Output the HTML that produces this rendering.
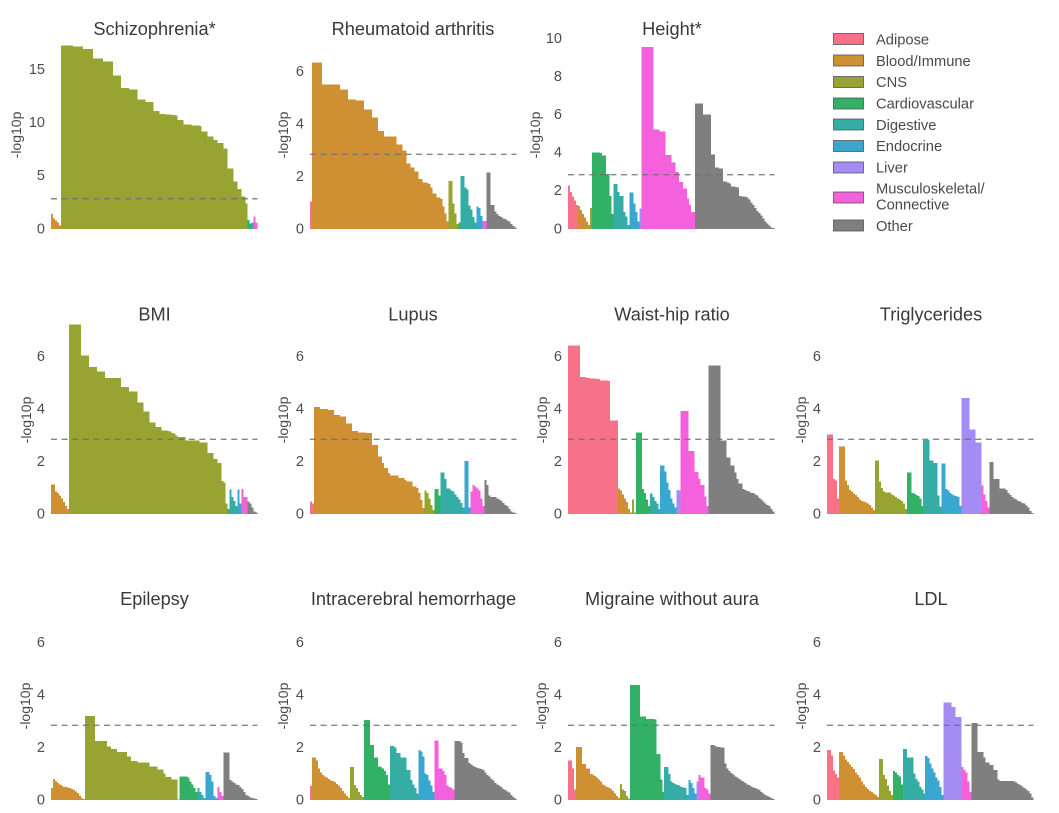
<!DOCTYPE html>
<html lang="en">
<head>
<meta charset="utf-8">
<title>Tissue enrichment by trait</title>
<style>
html,body{margin:0;padding:0;background:#fff;}
svg{display:block;filter:blur(.35px);}
text{font-family:"Liberation Sans",Arial,sans-serif;}
.title{font-size:18.2px;fill:#3a3a3a;text-anchor:middle;}
.legend-text{font-size:14.7px;fill:#4a4a4a;}
.tick{font-size:14.5px;fill:#4d4d4d;text-anchor:end;}
.ytitle{font-size:14px;fill:#4a4a4a;text-anchor:middle;}
</style>
</head>
<body>
<svg id="chart" xmlns="http://www.w3.org/2000/svg" width="1059" height="813" viewBox="0 0 1059 813">
<rect width="1059" height="813" fill="#ffffff"/>
<text class="title" x="154.5" y="35">Schizophrenia*</text>
<text class="title" x="413" y="35">Rheumatoid arthritis</text>
<text class="title" x="672" y="35">Height*</text>
<text class="title" x="154.5" y="320.5">BMI</text>
<text class="title" x="413" y="320.5">Lupus</text>
<text class="title" x="672" y="320.5">Waist-hip ratio</text>
<text class="title" x="931" y="320.5">Triglycerides</text>
<text class="title" x="154.5" y="605">Epilepsy</text>
<text class="title" x="413.5" y="605">Intracerebral hemorrhage</text>
<text class="title" x="672" y="605">Migraine without aura</text>
<text class="title" x="931" y="605">LDL</text>
<g stroke-width="0.8">
<rect x="833.5" y="33.5" width="30" height="11" fill="#f77189" stroke="#555"/>
<text class="legend-text" x="876" y="44.5" stroke="none">Adipose</text>
<rect x="833.5" y="55" width="30" height="11" fill="#ce9032" stroke="#555"/>
<text class="legend-text" x="876" y="66" stroke="none">Blood/Immune</text>
<rect x="833.5" y="76.5" width="30" height="11" fill="#97a431" stroke="#555"/>
<text class="legend-text" x="876" y="87" stroke="none">CNS</text>
<rect x="833.5" y="98" width="30" height="11" fill="#32b166" stroke="#555"/>
<text class="legend-text" x="876" y="108.5" stroke="none">Cardiovascular</text>
<rect x="833.5" y="119" width="30" height="11" fill="#36ada4" stroke="#555"/>
<text class="legend-text" x="876" y="130" stroke="none">Digestive</text>
<rect x="833.5" y="140.5" width="30" height="11" fill="#39a7d0" stroke="#555"/>
<text class="legend-text" x="876" y="151" stroke="none">Endocrine</text>
<rect x="833.5" y="162" width="30" height="11" fill="#a48cf4" stroke="#555"/>
<text class="legend-text" x="876" y="172.5" stroke="none">Liver</text>
<rect x="833.5" y="192" width="30" height="11" fill="#f561dd" stroke="#555"/>
<text class="legend-text" x="876" y="193.5" stroke="none">Musculoskeletal/</text>
<text class="legend-text" x="876" y="209.5" stroke="none">Connective</text>
<rect x="833.5" y="220" width="30" height="11" fill="#7f7f7f" stroke="#555"/>
<text class="legend-text" x="876" y="231" stroke="none">Other</text>
</g>
</svg>
<script>
// Tissue order for the inner arrays of every trait below.
const tissues = ["adipose","blood-immune","cns","cardiovascular","digestive","endocrine","liver","musculoskeletal","other"];
const tissueColors = ["#f77189","#ce9032","#97a431","#32b166","#36ada4","#39a7d0","#a48cf4","#f561dd","#7f7f7f"];
const threshold = 2.85;

const schizophrenia = [
 [],
 [1.4,1.0,0.8,0.6,0.35],
 [17.3,17.3,17.3,17.3,17.3,17.3,17.2,17.2,17.2,17.2,17.2,16.95,16.95,16.95,16.95,16.95,16.07,16.07,16.07,16.07,16.07,15.8,15.8,15.8,15.8,15.8,14.45,14.45,14.45,14.45,13.3,13.3,13.3,13.3,13.15,13.15,13.15,13.15,12.2,12.2,12.2,12.2,11.95,11.95,11.95,11.95,11.1,11.1,11.1,10.85,10.85,10.85,10.8,10.8,10.8,10.75,10.75,10.7,10.25,10.25,10.25,9.87,9.87,9.87,9.87,9.75,9.75,9.75,9.75,9.7,9.2,9.2,9.2,8.7,8.7,8.7,8.4,8.4,8.1,8.1,8.1,7.6,7.6,5.7,5.7,5.7,4.47,4.47,3.75,3.75,3.05,3.05,2.4],
 [0.85,0.5],
 [0.6],
 [],
 [],
 [1.2,0.6],
 []
];
const rheumatoidArthritis = [
 [1.05],
 [6.35,6.35,6.35,6.35,6.35,5.52,5.52,5.52,5.52,5.52,5.52,5.52,5.52,5.52,5.32,5.32,5.32,5.32,4.95,4.95,4.95,4.95,4.9,4.9,4.9,4.9,4.57,4.57,4.57,4.57,4.26,4.26,4.26,3.74,3.74,3.74,3.54,3.54,3.54,3.54,3.54,3.54,3.23,3.23,3.23,2.99,2.99,2.5,2.5,2.35,2.35,2.19,2.19,1.9,1.9,1.77,1.77,1.75,1.72,1.59,1.36,1.36,1.2,1.2,1.15,0.85,0.6,0.28],
 [1.83,1.83,0.98,0.6,0.2],
 [0.25],
 [2.02,2.02,1.58,1.5,0.9,0.75,0.45,0.25],
 [0.85,0.8,0.5],
 [],
 [0.3,0.3],
 [2.15,2.15,0.92,0.92,0.66,0.57,0.5,0.45,0.41,0.38,0.33,0.28,0.2,0.12,0.05]
];
const height = [
 [2.29,1.95,1.7,1.5,1.25],
 [1.2,1.0,0.8,0.6,0.4,0.2],
 [1.1],
 [4.02,4.02,4.02,4.02,4.0,3.87,3.87,2.9,2.9,1.73,0.8],
 [2.36,2.36,1.95,1.73,1.73,0.9,0.65,0.2],
 [1.92,1.92,1.35,0.9,0.4],
 [1.08],
 [9.57,9.57,9.57,9.57,9.57,9.57,5.23,5.23,5.23,5.13,5.13,5.13,3.88,3.88,3.88,3.5,3.5,3.0,3.0,2.48,2.48,2.13,2.13,1.6,1.25,0.9,0.9],
 [6.58,6.58,6.58,6.58,6.0,6.0,6.0,6.0,3.9,3.9,3.24,3.24,3.18,3.18,2.5,2.5,2.45,2.4,2.22,2.22,2.2,2.18,1.72,1.7,1.7,1.68,1.65,1.55,1.4,1.25,1.1,0.95,0.85,0.7,0.55,0.4,0.28,0.18,0.08,0.04]
];
const bmi = [
 [],
 [1.13,1.13,0.85,0.8,0.7,0.6,0.45,0.3,0.2],
 [7.24,7.24,7.24,7.24,7.24,7.24,6.05,6.05,6.05,6.05,5.62,5.62,5.62,5.62,5.44,5.44,5.44,5.44,5.2,5.2,5.2,5.2,5.2,5.2,5.2,5.2,4.84,4.84,4.84,4.84,4.67,4.67,4.67,4.67,4.25,4.25,4.25,3.92,3.92,3.92,3.5,3.5,3.5,3.33,3.33,3.33,3.19,3.19,3.18,3.17,3.15,3.1,3.07,3.0,2.94,2.94,2.94,2.94,2.81,2.81,2.81,2.81,2.81,2.81,2.81,2.73,2.73,2.73,2.73,2.32,2.32,2.32,2.09,2.09,1.94,1.94,1.26,1.2,0.41],
 [0.2],
 [0.93,0.65,0.5,0.3],
 [0.93,0.4],
 [],
 [0.95,0.65,0.65],
 [0.47,0.4,0.25,0.1,0.05]
];
const lupus = [
 [0.47,0.4],
 [4.09,4.09,4.09,4.0,4.0,4.0,4.0,3.96,3.96,3.96,3.77,3.77,3.77,3.72,3.72,3.72,3.45,3.45,3.45,3.17,3.17,3.17,3.12,3.12,3.12,3.12,3.1,3.1,3.1,2.64,2.64,2.64,2.2,2.2,1.94,1.75,1.75,1.56,1.46,1.46,1.46,1.46,1.37,1.37,1.37,1.3,1.24,1.24,1.24,1.05,1.05,1.0,0.8,0.54,0.22],
 [0.89,0.8,0.6,0.35,0.15],
 [0.95,0.95,0.7],
 [1.58,1.58,1.33,0.98,0.98,0.9,0.85,0.75,0.65,0.55,0.42,0.25],
 [2.02,2.02,0.25],
 [],
 [0.85,1.1,1.05,0.98,0.9,0.6,0.3],
 [1.3,1.1,0.7,0.65,0.65,0.65,0.6,0.55,0.5,0.42,0.35,0.3,0.2,0.1,0.05,0.03]
];
const waistHipRatio = [
 [6.44,6.44,6.44,6.44,6.44,6.44,5.22,5.22,5.22,5.2,5.2,5.18,5.18,5.18,5.16,5.16,5.1,5.1,5.1,5.1,5.08,3.56,3.56,3.56,3.56],
 [0.98,0.9,0.75,0.6,0.45,0.2],
 [0.05,0.56,0.05],
 [3.12,3.12,3.12,0.95,0.8,0.55,0.3],
 [0.79,0.65,0.5,0.4,0.2],
 [1.85,1.85,1.62,1.2,0.92,0.6,0.4,0.25],
 [0.92,0.9],
 [3.93,3.93,3.93,3.93,2.41,2.41,2.41,1.6,1.6,1.33,1.1,1.1,0.66,0.3],
 [5.67,5.67,5.67,5.67,5.67,5.67,2.8,2.8,2.8,2.16,2.16,1.85,1.85,1.58,1.34,1.17,1.17,0.95,0.92,0.88,0.85,0.8,0.8,0.75,0.7,0.62,0.55,0.48,0.4,0.35,0.3,0.2,0.1]
];
const triglycerides = [
 [3.04,3.04,3.04,1.33,1.28,0.6],
 [2.58,2.58,2.58,1.27,1.1,0.92,0.85,0.78,0.72,0.65,0.55,0.5,0.47,0.43,0.4,0.35,0.25,0.15],
 [2.04,2.04,1.24,1.0,0.85,0.82,0.82,0.82,0.75,0.7,0.65,0.6,0.55,0.5,0.4,0.2],
 [1.58,1.58,0.81,0.78,0.72,0.68,0.6,0.3],
 [2.83,2.83,2.83,2.04,2.04,1.94,1.94,0.7,0.28],
 [1.93,1.93,0.96,0.9,0.8,0.75,0.7,0.68,0.65,0.3],
 [4.42,4.42,4.42,4.42,3.23,3.23,3.23,2.72,2.72,2.72],
 [1.08,0.75,0.5,0.25],
 [1.98,1.98,1.33,1.33,1.33,0.98,0.98,0.98,0.92,0.8,0.72,0.65,0.6,0.55,0.5,0.47,0.42,0.4,0.33,0.25,0.12,0.03]
];
const epilepsy = [
 [],
 [0.45,0.8,0.72,0.65,0.6,0.55,0.5,0.5,0.47,0.45,0.42,0.38,0.33,0.27,0.18,0.08,0.03],
 [3.2,3.2,3.2,3.2,3.2,2.26,2.26,2.26,2.26,2.26,2.26,2.04,2.04,1.94,1.94,1.94,1.84,1.84,1.84,1.84,1.84,1.66,1.66,1.49,1.49,1.49,1.43,1.43,1.43,1.43,1.43,1.43,1.28,1.28,1.28,1.28,1.17,1.17,1.17,1.02,0.87,0.87,0.87,0.79,0.79,0.79,0.02],
 [0.9,0.9,0.9,0.9,0.85,0.7,0.6,0.45,0.3],
 [0.45,0.3,0.2,0.08],
 [1.07,1.07,0.95,0.7,0.15,0.08],
 [],
 [0.5,0.3,0.15],
 [1.81,1.81,1.81,0.77,0.7,0.65,0.6,0.58,0.5,0.42,0.3,0.2,0.15,0.1,0.07,0.05,0.03]
];
const intracerebralHemorrhage = [
 [0.54],
 [1.63,1.63,1.5,1.2,1.05,0.95,0.9,0.85,0.8,0.75,0.72,0.68,0.62,0.55,0.45,0.35,0.25,0.15,0.07],
 [1.25,1.25,0.57,0.45,0.3,0.2,0.12],
 [3.06,3.06,3.06,2.1,2.1,1.62,1.62,1.28,1.25,1.2,1.1,0.95,0.6],
 [2.07,2.07,2.0,1.8,1.8,1.62,1.62,1.62,1.15,1.15,0.77,0.6,0.45,0.25],
 [1.91,1.85,1.66,1.02,0.95,0.75,0.55,0.3],
 [],
 [2.27,2.27,1.2,1.2,1.1,0.95,0.55,0.5,0.45,0.4],
 [2.25,2.25,2.25,2.2,1.8,1.6,1.6,1.42,1.35,1.3,1.25,1.22,1.2,1.18,1.15,1.05,0.95,0.9,0.8,0.75,0.65,0.6,0.55,0.5,0.42,0.38,0.33,0.28,0.2,0.12,0.05]
];
const migraineWithoutAura = [
 [1.5,1.5,1.2,0.4],
 [2.03,2.03,2.03,1.38,1.38,1.2,1.2,1.0,0.98,0.92,0.85,0.78,0.7,0.6,0.55,0.5,0.47,0.42,0.35,0.25,0.15,0.07],
 [0.61,0.4,0.35,0.15,0.05],
 [4.39,4.39,4.39,4.39,4.39,3.18,3.18,3.18,3.09,3.09,3.09,3.09,3.07,1.76,1.76,0.79,0.3],
 [1.25,1.25,1.0,0.7,0.65,0.62,0.58,0.55,0.5,0.48,0.45,0.2],
 [0.77,0.65,0.45,0.25],
 [0.7],
 [0.96,0.85,0.85,0.45,0.4,0.25],
 [2.1,2.1,2.07,2.03,2.02,2.0,2.0,1.4,1.2,1.1,1.03,0.97,0.9,0.85,0.8,0.75,0.7,0.65,0.6,0.57,0.52,0.48,0.45,0.42,0.38,0.3,0.25,0.2,0.15,0.12,0.08,0.03]
];
const ldl = [
 [1.91,1.91,1.7,1.12,1.0,0.85],
 [1.84,1.84,1.7,1.55,1.45,1.35,1.25,1.18,1.05,0.95,0.85,0.7,0.6,0.5,0.42,0.35,0.3,0.25,0.2,0.12],
 [1.57,1.57,0.95,0.8,0.55,0.35,0.2],
 [1.11,1.05,0.95,0.9,0.6],
 [1.95,1.95,1.62,1.62,1.62,1.02,0.8,0.7,0.5,0.4,0.25],
 [1.68,1.6,1.4,1.2,1.05,0.85,0.75,0.5,0.2],
 [3.73,3.73,3.73,3.73,3.55,3.55,3.17,3.17,3.17],
 [1.25,1.15,1.05,0.7,0.3],
 [2.94,2.94,2.94,1.84,1.84,1.84,1.62,1.43,1.43,1.34,1.34,1.15,1.15,0.79,0.72,0.72,0.72,0.72,0.72,0.72,0.72,0.7,0.67,0.62,0.58,0.52,0.45,0.4,0.35,0.25,0.1]
];

const panelNames = ["schizophrenia","rheumatoid-arthritis","height","bmi","lupus","waist-hip-ratio","triglycerides","epilepsy","intracerebral-hemorrhage","migraine-without-aura","ldl"];
const panelSeries = [schizophrenia,rheumatoidArthritis,height,bmi,lupus,waistHipRatio,triglycerides,epilepsy,intracerebralHemorrhage,migraineWithoutAura,ldl];
const panelYMax = [18.0,7.29,10.03,7.29,7.29,7.29,7.29,7.29,7.29,7.29,7.29];
const ticksSmall = [0,2,4,6];
const ticksSchizophrenia = [0,5,10,15];
const ticksHeight = [0,2,4,6,8,10];
const panelTicks = [ticksSchizophrenia,ticksSmall,ticksHeight,ticksSmall,ticksSmall,ticksSmall,ticksSmall,ticksSmall,ticksSmall,ticksSmall,ticksSmall];

// Layout only
const plotHeight = 191;
const plotWidth = 206.5;
const columnLeft = [51,310,568,827];
const rowBase = [229,514,800];
const panelCol = [0,1,2,0,1,2,3,0,1,2,3];
const panelRow = [0,0,0,1,1,1,1,2,2,2,2];
const yTitleX = [[21,288,540],[31,288,547,806],[30,288,546,806]];

const svgNS = "http://www.w3.org/2000/svg";
const chart = document.getElementById("chart");

function yScale(value, panelIndex, base) {
  return base - (value / panelYMax[panelIndex]) * plotHeight;
}

panelSeries.forEach(function (series, p) {
  const x0 = columnLeft[panelCol[p]];
  const base = rowBase[panelRow[p]];
  const barCount = series.reduce(function (sum, arr) { return sum + arr.length; }, 0);
  const step = plotWidth / barCount;

  const g = document.createElementNS(svgNS, "g");
  
  
  chart.appendChild(g);

  let index = 0;
  series.forEach(function (values, t) {
    values.forEach(function (v) {
      const y = yScale(v, p, base);
      const bar = document.createElementNS(svgNS, "rect");
      
      
      bar.setAttribute("x", x0 + index * step);
      bar.setAttribute("y", y);
      bar.setAttribute("width", step + 0.05);
      bar.setAttribute("height", base - y);
      bar.setAttribute("fill", tissueColors[t]);
      bar.setAttribute("shape-rendering", "crispEdges");
      g.appendChild(bar);
      index++;
    });
  });

  const lineY = yScale(threshold, p, base);
  const line = document.createElementNS(svgNS, "line");
  
  
  line.setAttribute("x1", x0);
  line.setAttribute("x2", x0 + plotWidth);
  line.setAttribute("y1", lineY);
  line.setAttribute("y2", lineY);
  line.setAttribute("stroke", "#707070");
  line.setAttribute("stroke-opacity", "0.85");
  line.setAttribute("stroke-width", "1.4");
  line.setAttribute("stroke-dasharray", "6 4.6");
  g.appendChild(line);

  panelTicks[p].forEach(function (tickValue) {
    const label = document.createElementNS(svgNS, "text");
    
    
    label.setAttribute("class", "tick");
    label.setAttribute("x", x0 - 6);
    label.setAttribute("y", yScale(tickValue, p, base) + 4.3);
    label.textContent = String(tickValue);
    g.appendChild(label);
  });

  const tx = yTitleX[panelRow[p]][panelCol[p]];
  const ty = base - 94;
  const yTitle = document.createElementNS(svgNS, "text");
  
  
  yTitle.setAttribute("class", "ytitle");
  yTitle.setAttribute("transform", "translate(" + tx + " " + ty + ") rotate(-90)");
  yTitle.textContent = "-log10p";
  g.appendChild(yTitle);
});
</script>
</body>
</html>
